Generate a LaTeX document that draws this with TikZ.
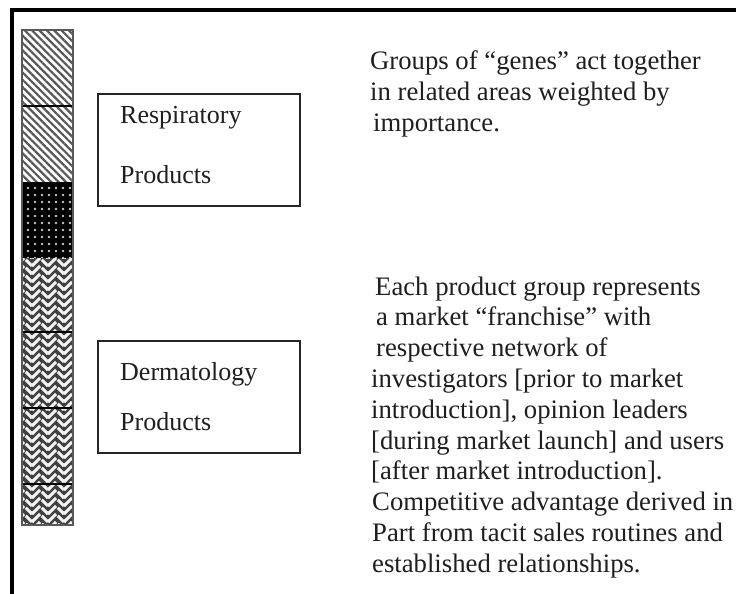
\documentclass[tikz,border=0pt]{standalone}
\usepackage{fontspec}
\setmainfont{Liberation Serif}
\usetikzlibrary{patterns,patterns.meta}
\pgfdeclarepatternformonly{weave}{\pgfqpoint{-2pt}{-2pt}}{\pgfqpoint{18pt}{18pt}}{\pgfqpoint{16pt}{16pt}}{%
  \pgfsetlinewidth{3pt}%
  \pgfpathmoveto{\pgfqpoint{0pt}{0pt}}\pgfpathlineto{\pgfqpoint{8pt}{8pt}}%
  \pgfpathmoveto{\pgfqpoint{9.8pt}{6.2pt}}\pgfpathlineto{\pgfqpoint{16pt}{0pt}}%
  \pgfpathmoveto{\pgfqpoint{0pt}{8pt}}\pgfpathlineto{\pgfqpoint{8pt}{16pt}}%
  \pgfpathmoveto{\pgfqpoint{9.8pt}{14.2pt}}\pgfpathlineto{\pgfqpoint{16pt}{8pt}}%
  \pgfpathmoveto{\pgfqpoint{16pt}{0pt}}\pgfpathlineto{\pgfqpoint{18pt}{2pt}}%
  \pgfpathmoveto{\pgfqpoint{16pt}{8pt}}\pgfpathlineto{\pgfqpoint{18pt}{10pt}}%
  \pgfpathmoveto{\pgfqpoint{-2pt}{18pt}}\pgfpathlineto{\pgfqpoint{0pt}{16pt}}%
  \pgfusepath{stroke}%
}
\tikzset{
  frameline/.style={line width=3.2pt, black},
  hatchcell/.style={fill=white, pattern={Lines[angle=-45,distance=5.2pt,line width=2.2pt]}, pattern color=black!65},
  dotcell/.style={preaction={fill=black}, pattern={Dots[radius=1.4pt,distance=7pt]}, pattern color=white!55!gray},
  weavecell/.style={preaction={fill=black!75}, pattern=weave, pattern color=white!90!gray},
  sepline/.style={line width=1.3pt, black},
  colborder/.style={line width=1.5pt, black!65},
  box/.style={draw=black!85, line width=1.4pt, minimum width=202pt, minimum height=112pt, inner sep=0pt},
  boxtext/.style={inner sep=0pt, anchor=base west, text=black!88, font=\fontsize{26}{30}\selectfont},
  body/.style={inner sep=0pt, anchor=base west, text=black!88, font=\fontsize{26.7}{30.8}\selectfont}
}
\begin{document}
\begin{tikzpicture}[x=1pt,y=-1pt]
\useasboundingbox (0,0) rectangle (736,594);
\fill[white] (0,0) rectangle (736,594);
% frame
\coordinate (fbl) at (12,594);
\coordinate (ftl) at (12,10);
\coordinate (ftr) at (736,10);
\draw[frameline] (fbl) -- (ftl) -- (ftr);
% column of cells
\path[hatchcell] (22,30) rectangle (73,106);
\path[hatchcell] (22,106) rectangle (73,182);
\path[dotcell] (22,182) rectangle (73,258);
\path[weavecell] (22,258) rectangle (73,332);
\path[weavecell] (22,332) rectangle (73,408);
\path[weavecell] (22,408) rectangle (73,484);
\path[weavecell] (22,484) rectangle (73,525);
\draw[sepline] (22,106) -- (73,106);
\draw[sepline] (22,332) -- (73,332);
\draw[sepline] (22,408) -- (73,408);
\draw[sepline] (22,484) -- (73,484);
\draw[colborder] (22,30) rectangle (73,525);
% boxes
\node[box] (resp) at (199,150) {};
\node[boxtext] (resp1) at (120,123) {Respiratory};
\node[boxtext] (resp2) at (120,183) {Products};
\node[box] (derm) at (199,397) {};
\node[boxtext] (derm1) at (120,380) {Dermatology};
\node[boxtext] (derm2) at (120,430) {Products};
% text 1
\node[body] (ga) at (370,70) {Groups of “genes” act together};
\node[body] (gb) at (370,100.8) {in related areas weighted by};
\node[body] (gc) at (373,131.6) {importance.};
% text 2
\node[body] (ea) at (375,295) {Each product group represents};
\node[body] (eb) at (376,325.8) {a market “franchise” with};
\node[body] (ec) at (376,356.6) {respective network of};
\node[body] (ed) at (371,387.4) {investigators [prior to market};
\node[body] (ee) at (371,418.2) {introduction], opinion leaders};
\node[body] (ef) at (371,449) {[during market launch] and users};
\node[body] (eg) at (371,479.8) {[after market introduction].};
\node[body] (eh) at (372,510.6) {Competitive advantage derived in};
\node[body] (ei) at (372,541.4) {Part from tacit sales routines and};
\node[body] (ej) at (372,572.2) {established relationships.};
\end{tikzpicture}
\end{document}
